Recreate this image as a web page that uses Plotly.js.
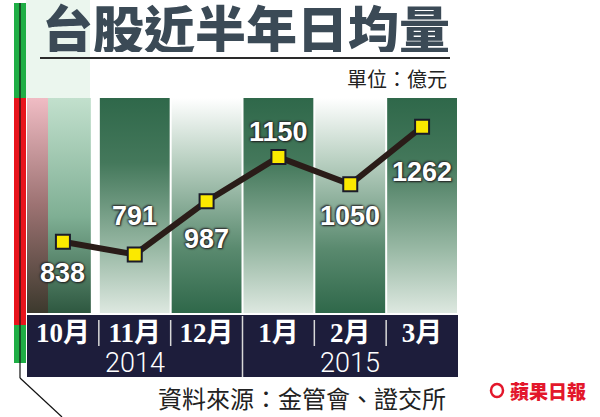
<!DOCTYPE html>
<html>
<head>
<meta charset="utf-8">
<script src="https://cdn.plot.ly/plotly-3.0.1.min.js"></script>
<style>
html,body{margin:0;padding:0;background:#fff;}
#chart{width:600px;height:417px;}
</style>
</head>
<body>
<div id="chart"></div>
<script>
// ---- data ----
const months = ['10月', '11月', '12月', '1月', '2月', '3月'];
const years = ['2014', '2014', '2014', '2015', '2015', '2015'];
const volumes = [838, 791, 987, 1150, 1050, 1262];
const titleText = '台股近半年日均量';
const unitText = '單位：億元';
const sourceText = '資料來源：金管會、證交所';
const brandText = '蘋果日報';

// ---- layout geometry (pixels) ----
const W = 600, H = 417;
const L = 27, R = 458, T = 98, B = 313;
const PX = px => (px - L) / (R - L);
const PY = py => (B - py) / (B - T);
const yRange = [575, 1368];
const idx = months.map((_, i) => i);

// column gradient styles
const darkTop = [[0, '#dde8e0'], [0.3, '#98b8a4'], [0.7, '#44785b'], [1, '#2f684a']];
const lightTop = [[0, '#2f684a'], [0.3, '#5a8a6f'], [0.72, '#bcd2c4'], [1, '#ffffff']];
const firstCol = [[0, '#2e5840'], [0.45, '#7faf94'], [1, '#c2e0cd']];
const pinkStrip = [[0, '#3c392d'], [0.5, '#9c7272'], [1, '#f0bcc4']];

const traces = [];
function band(x0, x1, cs) {
  traces.push({
    x: [x0, x1, x1, x0, x0], y: [yRange[0], yRange[0], yRange[1], yRange[1], yRange[0]],
    mode: 'lines', line: {width: 0, color: 'rgba(0,0,0,0)'}, fill: 'toself',
    fillgradient: {type: 'vertical', colorscale: cs},
    hoverinfo: 'skip', showlegend: false
  });
}
const pxU = (R - L) / months.length;
idx.forEach(i => {
  const g = 1 / pxU;
  if (i === 0) {
    band(-0.5, -0.5 + 21 / pxU, pinkStrip);
    band(-0.5 + 21 / pxU, 0.5 - 8 / pxU, firstCol);
  } else {
    band(i - 0.5 + g, i + 0.5 - g, i % 2 === 1 ? darkTop : lightTop);
  }
});

traces.push({
  x: idx, y: volumes, mode: 'lines+markers',
  line: {color: '#2a1c18', width: 6},
  marker: {symbol: 'square', size: 14, color: '#fbe900', line: {color: '#1b1b2a', width: 2}},
  hoverinfo: 'skip', showlegend: false
});

// label offsets (px) relative to the markers
const labelShift = [-31, 38, -38, 25, -32, -45];

const annotations = [];
volumes.forEach((v, i) => {
  annotations.push({
    x: i, y: v, xref: 'x', yref: 'y', text: String(v), showarrow: false,
    yshift: labelShift[i], xanchor: 'center', yanchor: 'middle',
    font: {family: 'Liberation Sans, Arial, sans-serif', size: 27, weight: 700, color: '#ffffff',
           shadow: '0 0 2px #222, 1px 1px 2px #222, -1px -1px 2px #333'}
  });
});

// years (centered on their month groups)
[...new Set(years)].forEach(yr => {
  const ids = idx.filter(i => years[i] === yr);
  const cx = ids.reduce((a, b) => a + b, 0) / ids.length;
  annotations.push({
    x: cx, xref: 'x', y: PY(363), yref: 'paper', text: yr, showarrow: false,
    xanchor: 'center', yanchor: 'middle', height: 24,
    font: {family: 'Roboto, Lato, sans-serif', size: 27, weight: 300, color: '#ffffff'}
  });
});

annotations.push({
  x: PX(246), y: PY(27), xref: 'paper', yref: 'paper', text: titleText, showarrow: false,
  xanchor: 'center', yanchor: 'middle', height: 50,
  font: {family: 'Noto Sans CJK TC, sans-serif', size: 51, weight: 900, color: '#3b4a56'}
});
annotations.push({
  x: PX(449), y: PY(78), xref: 'paper', yref: 'paper', text: unitText, showarrow: false,
  xanchor: 'right', yanchor: 'middle',
  font: {family: 'Noto Sans CJK TC, sans-serif', size: 20, weight: 400, color: '#222222'}
});
annotations.push({
  x: PX(448), y: PY(397), xref: 'paper', yref: 'paper', text: sourceText, showarrow: false,
  xanchor: 'right', yanchor: 'middle', height: 28,
  font: {family: 'Noto Sans CJK TC, sans-serif', size: 24, weight: 400, color: '#222222'}
});
annotations.push({
  x: PX(588), y: PY(390), xref: 'paper', yref: 'paper', text: brandText, showarrow: false,
  xanchor: 'right', yanchor: 'middle',
  font: {family: 'Noto Sans CJK TC, sans-serif', size: 19, weight: 900, color: '#e3172b'}
});

const shapes = [];
function rect(x0, y0, x1, y1, color, layer) {
  shapes.push({type: 'rect', xref: 'paper', yref: 'paper', x0: PX(x0), x1: PX(x1), y0: PY(y1), y1: PY(y0),
               fillcolor: color, line: {width: 0}, layer: layer || 'above'});
}
function line(x0, y0, x1, y1, color, w) {
  shapes.push({type: 'line', xref: 'paper', yref: 'paper', x0: PX(x0), x1: PX(x1), y0: PY(y0), y1: PY(y1),
               line: {color: color, width: w}});
}
// mint background at top-left
rect(26, 0, 90, 98, '#ebf6ee', 'below');
// left colour strip
rect(14, 3, 26, 98, '#1fae45');
rect(14, 98, 26, 325, '#e8141c');
rect(14, 325, 26, 363, '#1fae45');
line(20, 3, 20, 378, '#111', 1.2);
line(20, 378, 62, 417, '#111', 1.2);
// title underline
line(40, 58, 450, 58, '#2a2a2a', 2);
// dark band for the axis labels (below, so tick labels stay on top)
rect(27, 315, 458, 377, '#1d1d3b', 'below');
// separators
idx.slice(1).forEach(i => {
  const xb = L + i * pxU;
  const full = years[i] !== years[i - 1];
  line(xb, full ? 316 : 320, xb, full ? 377 : 346, '#d8d8d8', 1.5);
});
// brand apple mark
shapes.push({type: 'circle', xref: 'paper', yref: 'paper', x0: PX(491), x1: PX(503), y0: PY(397), y1: PY(384),
             line: {color: '#e3172b', width: 2.5}, fillcolor: 'rgba(0,0,0,0)'});

const layout = {
  width: W, height: H,
  margin: {l: L, r: W - R, t: T, b: H - B, pad: 0},
  paper_bgcolor: '#ffffff', plot_bgcolor: 'rgba(0,0,0,0)',
  showlegend: false,
  xaxis: {
    range: [-0.5, months.length - 0.5], tickvals: idx, ticktext: months,
    showgrid: false, zeroline: false, showline: false, ticks: '',
    ticklabelstandoff: 1,
    tickfont: {family: 'Liberation Serif, Noto Sans CJK TC, serif', size: 27, weight: 700, color: '#ffffff'},
    fixedrange: true
  },
  yaxis: {range: yRange, visible: false, fixedrange: true},
  shapes: shapes,
  annotations: annotations
};

Plotly.newPlot('chart', traces, layout, {displayModeBar: false, staticPlot: true});
</script>
</body>
</html>
